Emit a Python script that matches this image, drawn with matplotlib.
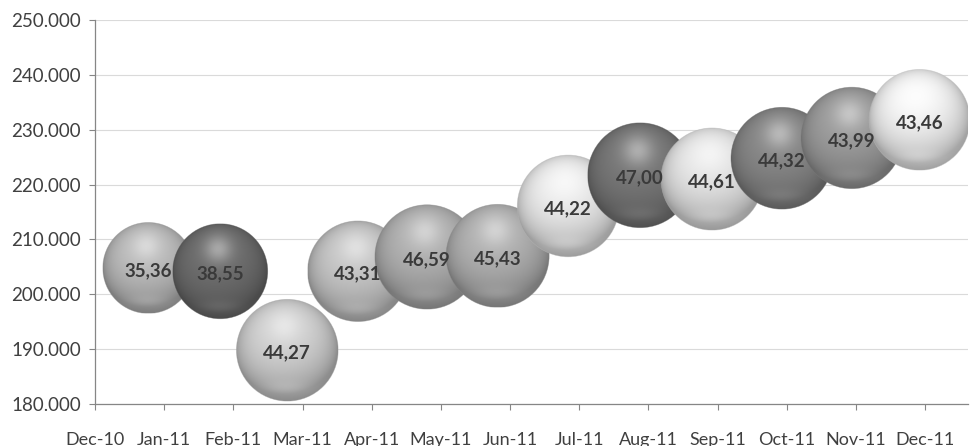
import numpy as np
import matplotlib
matplotlib.use("Agg")
import matplotlib.pyplot as plt
from matplotlib.patches import Ellipse
from matplotlib.ticker import FuncFormatter

plt.rcParams['font.family'] = ['Lato', 'DejaVu Sans']

# Month tick labels on the horizontal axis (one tick per month)
month_labels = ["Dec-10", "Jan-11", "Feb-11", "Mar-11", "Apr-11", "May-11", "Jun-11",
                "Jul-11", "Aug-11", "Sep-11", "Oct-11", "Nov-11", "Dec-11"]

# Bubble series: position in months from Dec-10, value, and bubble size
bubble_x = [0.77, 1.81, 2.78, 3.80, 4.80, 5.82, 6.84, 7.88, 8.92, 9.93, 10.94, 11.92]
bubble_y = [204800, 204200, 189800, 204200, 206800, 207000,
            216100, 221700, 221000, 224800, 228500, 231800]
bubble_size = [35.36, 38.55, 44.27, 43.31, 46.59, 45.43,
               44.22, 47.00, 44.61, 44.32, 43.99, 43.46]
# Grey level of each bubble (0 = black, 1 = white)
bubble_gray = [0.72, 0.42, 0.80, 0.76, 0.68, 0.68, 0.90, 0.46, 0.88, 0.52, 0.60, 0.93]

W, H = 971, 446
fig = plt.figure(figsize=(W / 100, H / 100), dpi=100)
ax = fig.add_axes([95 / W, 1 - 404 / H, (968 - 95) / W, (404 - 20) / H])
ax.set_xlim(0, 12.62)
ax.set_ylim(180000, 250000)

# pixel scale of the data axes, so the bubbles come out round
p0 = ax.transData.transform((0, 180000))
sx = ax.transData.transform((1, 180000))[0] - p0[0]
sy = (ax.transData.transform((0, 190000))[1] - p0[1]) / 10000.0

K = 15.3  # bubble diameter in pixels per sqrt(size)


def sphere(base, n=240):
    g = np.linspace(-1, 1, n)
    u, v = np.meshgrid(g, g)
    r2 = u ** 2 + v ** 2
    z = np.sqrt(np.clip(1 - r2, 0, 1))
    L = np.array([-0.1, 0.5, 0.86])
    L = L / np.linalg.norm(L)
    diff = np.clip(u * L[0] + v * L[1] + z * L[2], 0, 1)
    val = base * (0.74 + 0.32 * diff)
    spec = np.exp(-((u + 0.05) ** 2 + (v - 0.48) ** 2) / 0.08)
    val = val + (1 - val) * 0.38 * spec
    refl = np.exp(-((v + 0.75) ** 2) / 0.02 - u ** 2 / 0.25) * 0.06
    val = val + refl
    val = val * (1 - 0.08 * np.clip(r2, 0, 1) ** 3)
    val = np.clip(val, 0, 1)
    return np.dstack([val, val, val])


for i, (x, y, s, g) in enumerate(zip(bubble_x, bubble_y, bubble_size, bubble_gray)):
    d = K * np.sqrt(s)
    w = d / sx
    h = d / sy
    z = 3 + i * 0.01
    ell = Ellipse((x, y), w, h, transform=ax.transData, facecolor='none',
                  edgecolor=(g * 0.8, g * 0.8, g * 0.8), linewidth=0.5, alpha=0.5,
                  zorder=z + 0.005)
    ax.add_patch(ell)
    im = ax.imshow(sphere(g), extent=(x - w / 2, x + w / 2, y - h / 2, y + h / 2),
                   origin='lower', aspect='auto', interpolation='bilinear', zorder=z)
    im.set_clip_path(ell)
    ax.text(x, y - 3 / sy, f"{s:.2f}".replace('.', ','), ha='center', va='center',
            fontsize=13.5, fontweight='bold', color='#3a3a3a', zorder=20)

ax.set_xlim(0, 12.62)
ax.set_ylim(180000, 250000)

ax.set_xticks(range(len(month_labels)))
ax.set_xticklabels(month_labels)
ax.set_yticks(np.arange(180000, 250001, 10000))
ax.yaxis.set_major_formatter(FuncFormatter(lambda v, p: f"{int(round(v)):,}".replace(',', '.')))

for side in ('top', 'right'):
    ax.spines[side].set_visible(False)
for side in ('left', 'bottom'):
    ax.spines[side].set_color('#868686')
    ax.spines[side].set_linewidth(0.9)

ax.grid(axis='y', color='#dadada', linewidth=0.8, zorder=0)
ax.set_axisbelow(True)
ax.tick_params(axis='y', length=4, color='#868686', pad=6, labelsize=13.5, labelcolor='#404040')
ax.tick_params(axis='x', length=4, color='#868686', pad=16, labelsize=13, labelcolor='#404040')

fig.savefig('out.png', dpi=100)
